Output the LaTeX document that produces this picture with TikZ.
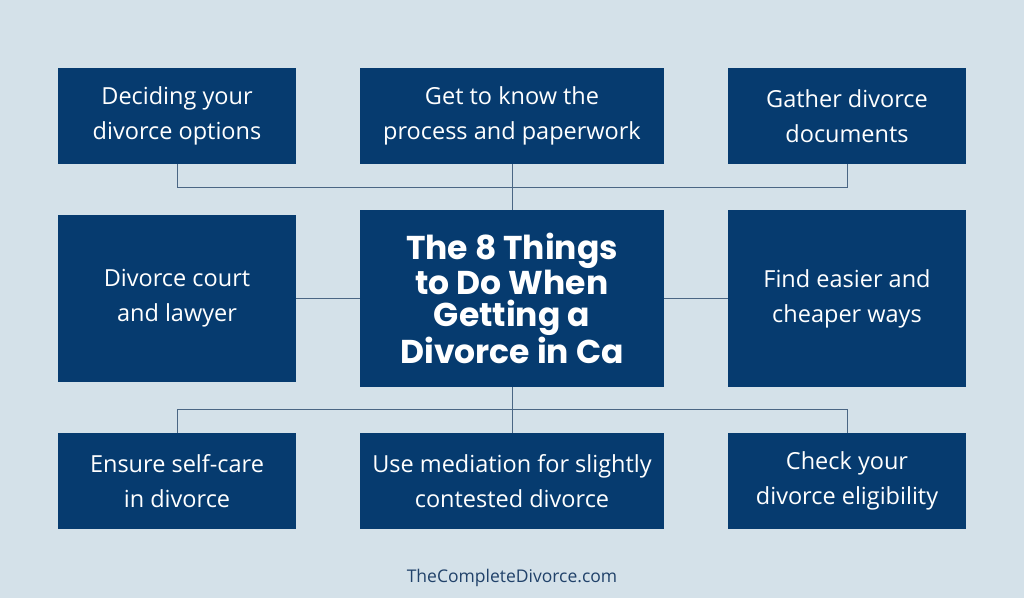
\documentclass[tikz,border=0pt]{standalone}
\usepackage{fontspec}
\setmainfont{Open Sans}
\newfontfamily\titlefont{Poppins}
\definecolor{bgblue}{HTML}{D4E1E9}
\definecolor{navy}{HTML}{063B6F}
\definecolor{linkgray}{HTML}{4A6684}
\definecolor{footblue}{HTML}{21426A}
\begin{document}
\begin{tikzpicture}[x=1pt, y=-1pt,
    box/.style={fill=navy, text=white, inner sep=0pt, align=center,
        font=\fontsize{23.5}{35}\selectfont},
    link/.style={draw=linkgray, line width=0.9pt}]
                    \fill[bgblue] (0,0) rectangle (1024,598);
                    \useasboundingbox (0,0) rectangle (1024,598);
                    % top row
                    \node[box, minimum width=238pt, minimum height=96pt] (decide) at (177,116) {Deciding your\\divorce options};
                    \node[box, minimum width=304pt, minimum height=96pt] (process) at (512,116) {Get to know the\\process and paperwork};
                    \node[box, minimum width=238pt, minimum height=96pt] (gather) at (847,116) {Gather divorce\\documents};
                    % middle row
                    \node[box, minimum width=238pt, minimum height=167pt] (court) at (177,298.5) {Divorce court\\and lawyer};
                    \node[box, minimum width=304pt, minimum height=177pt,
                        font=\titlefont\bfseries\fontsize{33}{32.5}\selectfont] (title) at (512,298.5) {The 8 Things\\to Do When\\Getting a\\Divorce in Ca};
                    \node[box, minimum width=238pt, minimum height=177pt] (cheaper) at (847,298.5) {Find easier and\\cheaper ways};
                    % bottom row
                    \node[box, minimum width=238pt, minimum height=96pt] (selfcare) at (177,481) {Ensure self-care\\in divorce};
                    \node[box, minimum width=304pt, minimum height=96pt] (mediation) at (512,481) {Use mediation for slightly\\contested divorce};
                    \node[box, minimum width=238pt, minimum height=96pt] (eligible) at (847,481) {Check your\\divorce eligibility};
                    % connectors
                    \coordinate (topbus) at (512,187.5);
                    \coordinate (botbus) at (512,409);
                    \draw[link] (decide.south) |- (topbus) -| (gather.south);
                    \draw[link] (process.south) -- (title.north);
                    \draw[link] (title.south) -- (mediation.north);
                    \draw[link] (selfcare.north) |- (botbus) -| (eligible.north);
                    \draw[link] (court.east) -- (title.west);
                    \draw[link] (title.east) -- (cheaper.west);
                    \node[text=footblue, font=\fontsize{17.5}{20}\selectfont] (site) at (512,578) {TheCompleteDivorce.com};
                \end{tikzpicture}
\end{document}
